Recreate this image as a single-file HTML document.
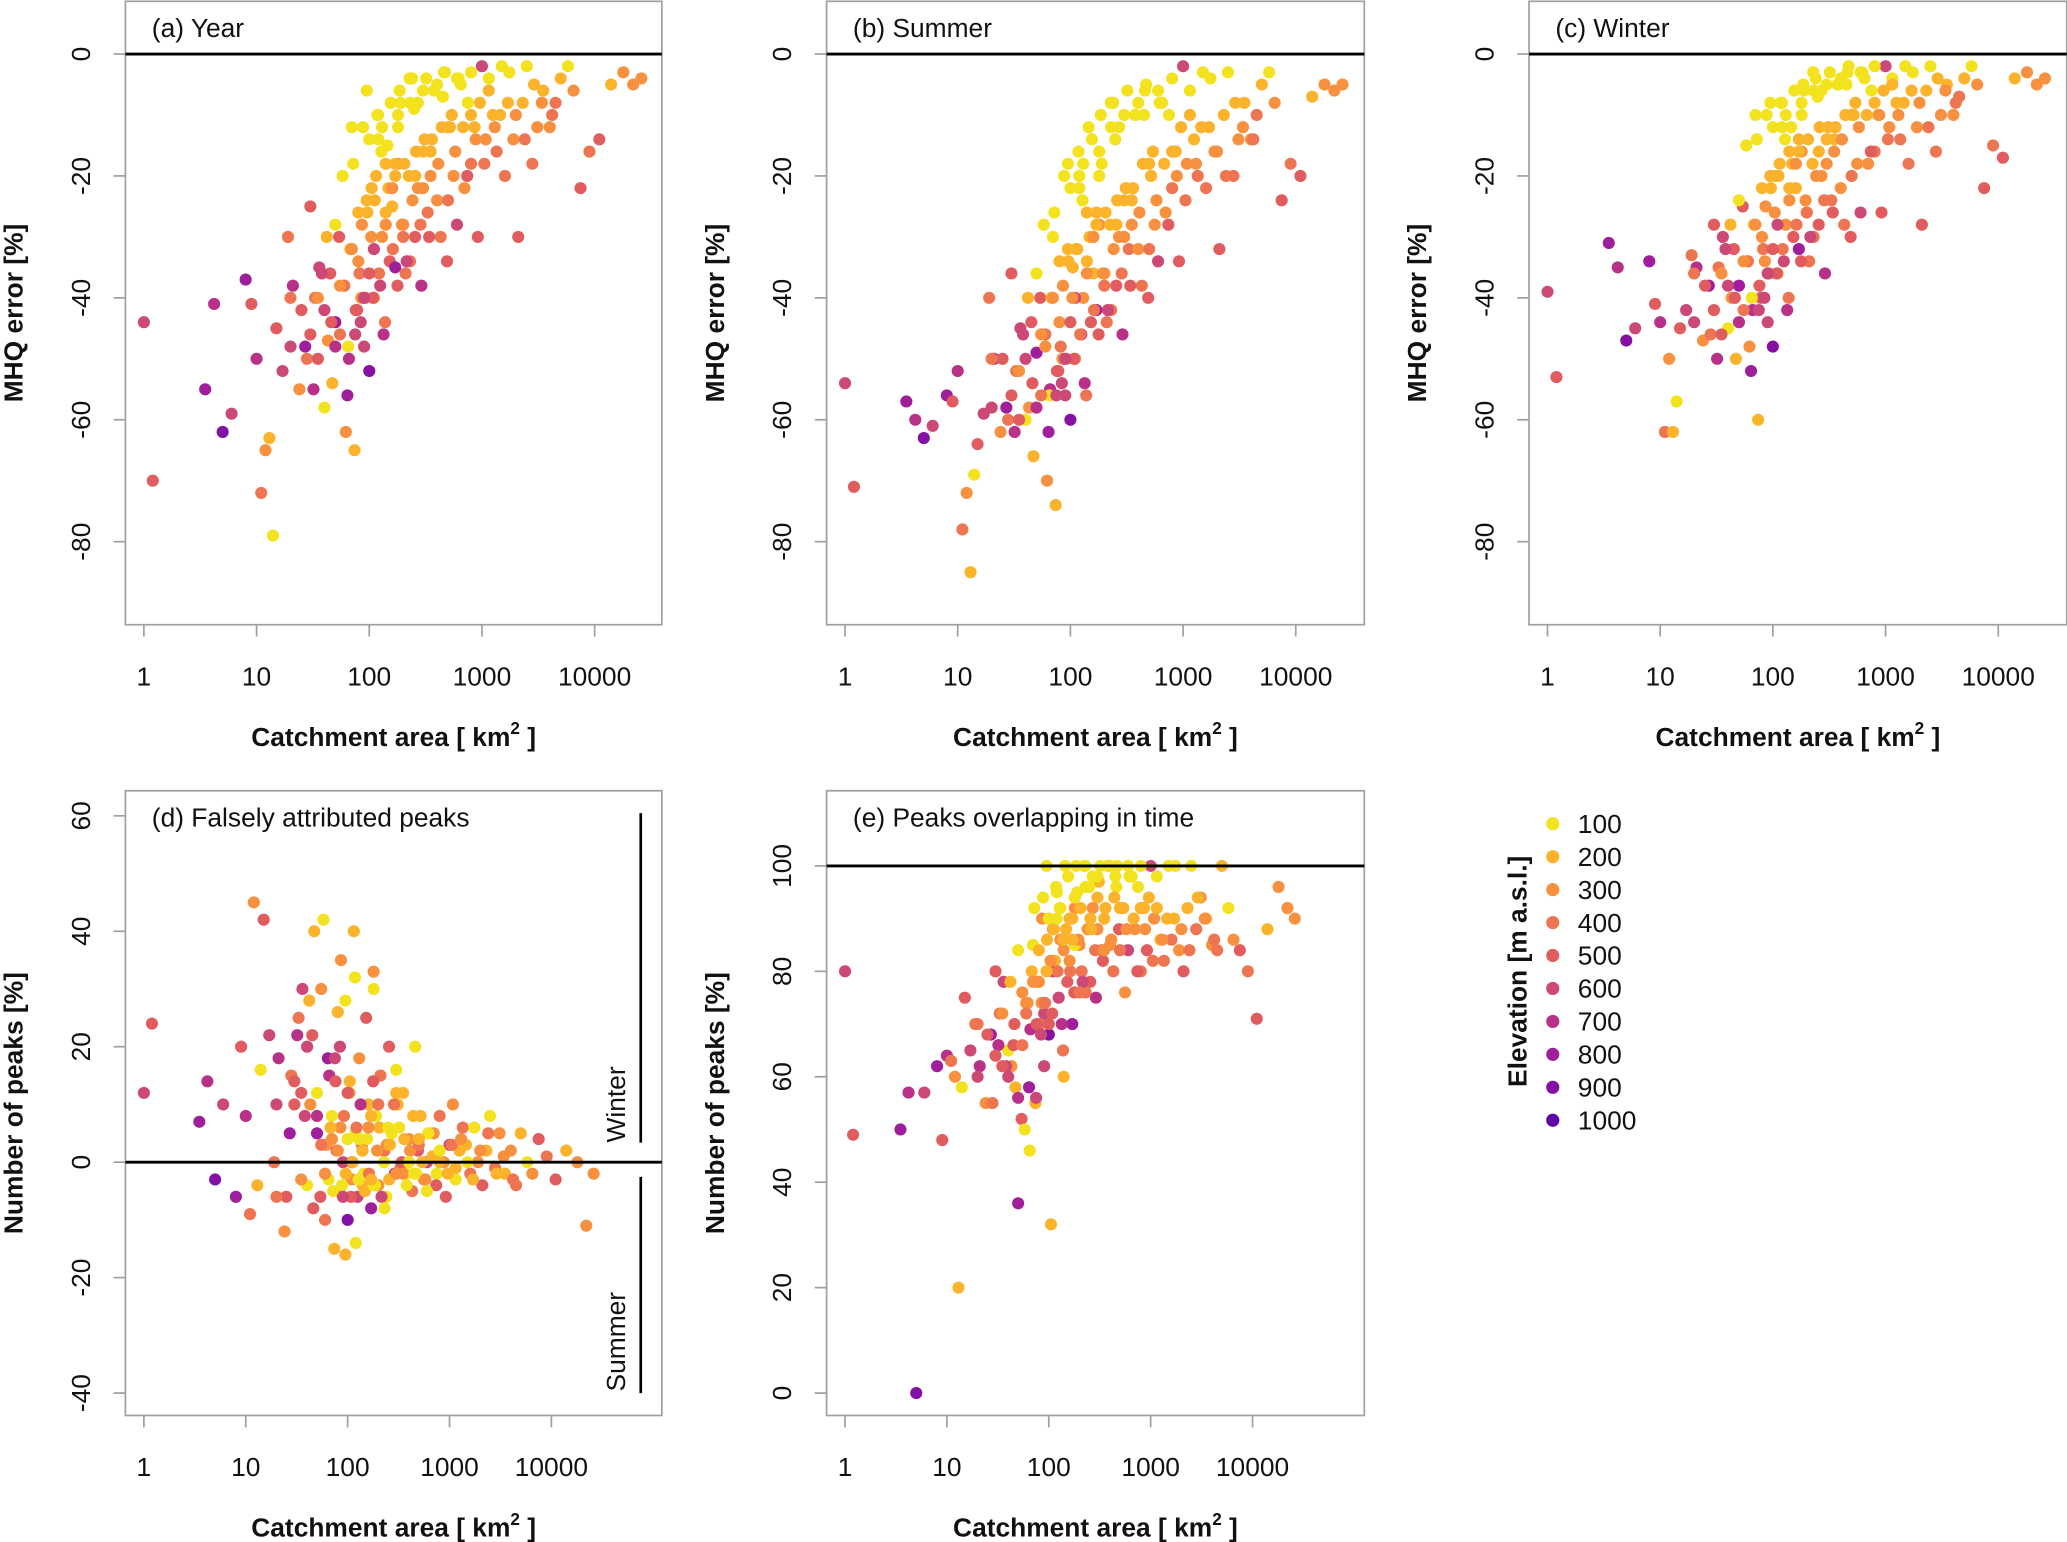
<!DOCTYPE html>
<html><head><meta charset="utf-8">
<style>
html,body{margin:0;padding:0;background:#fff;}
svg{display:block;font-family:"Liberation Sans",Arial,sans-serif;}
</style></head>
<body>
<svg id="chart" width="2067" height="1542" viewBox="0 0 1568 1170" xmlns="http://www.w3.org/2000/svg"></svg>
<script>
const areas=[1,1.2,3.5,4.2,5,6,8,9,10,11,
12,13,14,15,17,19,21,24,27,30,
33,36,40,43,47,50,54,58,62,66,
70,74,78,82,86,90,95,100,105,110,
115,120,125,130,138,145,152,160,170,180,
190,200,210,225,240,255,270,290,310,330,
350,375,400,430,460,490,520,560,600,650,
700,750,800,860,920,1000,1080,1150,1250,1350,
1450,1600,1750,1900,2100,2300,2500,2800,3100,3500,
4000,4500,5000,5800,6500,7500,9000,11000,14000,18000,
22000,26000,45,65,85,110,140,180,230,300,
20,25,28,32,35,38,42,46,50,55,
60,64,68,72,76,80,84,88,92,96,
100,104,108,112,118,122,128,134,140,148,
155,162,170,178,186,195,205,215,228,242,
256,270,285,300,320,340,360,380,410,440,
470,500,540,580,620,680,740,800,880,960,
1050,1150,1300,1500,1700,2000,2400,2900,3400,4200,
30,40,50,60,70,80,90,100,120,140,
160,180,200,230,260,300,350,400,500,600,
20,35,55,75,95,130,170,250,450,800];
const elevations=[600,500,800,700,900,600,800,500,700,400,
300,200,100,500,600,400,700,300,800,500,
400,600,100,300,200,800,500,100,300,700,
100,200,500,400,300,600,100,900,200,300,
200,100,600,300,400,100,500,200,800,300,
100,300,400,200,100,500,300,700,200,400,
200,100,300,400,100,500,200,300,600,100,
300,100,400,200,500,600,300,100,200,400,
200,400,100,300,500,200,100,400,300,200,
300,400,200,100,300,500,400,500,200,300,
300,300,500,100,300,600,200,100,400,200,
600,500,400,700,300,600,200,500,100,400,
300,800,200,100,500,300,600,100,400,200,
100,300,500,200,100,400,100,700,300,200,
100,400,200,500,100,300,200,600,100,300,
200,100,400,300,100,500,200,100,300,200,
100,400,200,300,100,200,500,100,300,200,
400,200,300,100,200,300,400,200,300,400,
500,600,700,400,300,200,600,500,100,200,
300,100,400,100,200,100,300,100,200,100,
400,500,300,600,200,100,200,100,100,200];
const yearErr=[-44,-70,-55,-41,-62,-59,-37,-41,-50,-72,
-65,-63,-79,-45,-52,-30,-38,-55,-48,-25,
-40,-35,-58,-47,-54,-44,-30,-20,-62,-50,
-12,-65,-42,-36,-28,-48,-6,-52,-22,-40,
-20,-10,-38,-30,-44,-15,-34,-25,-35,-18,
-8,-28,-36,-20,-4,-30,-22,-38,-14,-26,
-16,-6,-24,-30,-3,-34,-12,-20,-28,-5,
-22,-8,-18,-12,-30,-2,-14,-4,-10,-16,
-10,-20,-3,-14,-30,-8,-2,-18,-12,-6,
-12,-8,-4,-2,-6,-22,-16,-14,-5,-3,
-5,-4,-36,-48,-40,-32,-26,-12,-34,-16,
-48,-42,-50,-55,-40,-36,-30,-44,-28,-46,
-38,-56,-32,-18,-42,-34,-44,-12,-40,-26,
-14,-30,-40,-24,-10,-36,-16,-46,-28,-22,
-8,-32,-20,-38,-6,-28,-18,-34,-4,-24,
-20,-8,-28,-22,-4,-30,-14,-6,-18,-12,
-3,-24,-10,-16,-4,-12,-20,-3,-14,-8,
-18,-6,-12,-2,-8,-10,-14,-5,-8,-10,
-46,-42,-48,-38,-32,-26,-40,-36,-14,-18,
-22,-10,-30,-8,-16,-6,-20,-5,-12,-4,
-40,-50,-38,-46,-24,-12,-18,-9,-7,-10];
const summerErr=[-54,-71,-57,-60,-63,-61,-56,-57,-52,-78,
-72,-85,-69,-64,-59,-40,-50,-62,-58,-36,
-52,-45,-60,-58,-66,-49,-40,-28,-70,-55,
-30,-74,-52,-48,-38,-56,-18,-60,-35,-50,
-32,-22,-46,-40,-56,-12,-44,-36,-42,-28,
-18,-36,-44,-28,-8,-38,-30,-46,-22,-32,
-24,-10,-32,-38,-6,-40,-20,-28,-34,-8,
-26,-10,-22,-16,-34,-2,-18,-6,-14,-20,
-12,-22,-4,-16,-32,-10,-3,-20,-14,-8,
-14,-10,-5,-3,-8,-24,-18,-20,-7,-5,
-6,-5,-44,-56,-50,-40,-34,-20,-42,-24,
-58,-50,-60,-62,-52,-46,-40,-54,-36,-56,
-48,-62,-40,-26,-52,-44,-54,-20,-50,-34,
-22,-40,-50,-32,-16,-46,-24,-54,-36,-30,
-14,-42,-28,-46,-10,-36,-26,-42,-8,-32,
-28,-12,-36,-30,-6,-38,-22,-10,-26,-18,
-5,-32,-16,-24,-8,-18,-28,-4,-20,-12,
-24,-10,-18,-3,-12,-16,-20,-8,-12,-14,
-56,-50,-58,-46,-40,-34,-50,-44,-20,-26,
-30,-16,-38,-12,-24,-10,-28,-8,-18,-6,
-50,-60,-46,-56,-32,-18,-26,-14,-10,-16];
const winterErr=[-39,-53,-31,-35,-47,-45,-34,-41,-44,-62,
-50,-62,-57,-45,-42,-33,-35,-47,-38,-28,
-35,-30,-45,-40,-50,-38,-25,-15,-48,-42,
-10,-60,-40,-32,-25,-44,-8,-48,-20,-36,
-18,-8,-34,-28,-40,-12,-30,-22,-32,-16,
-6,-26,-34,-18,-4,-28,-20,-36,-12,-24,
-14,-5,-22,-28,-3,-30,-10,-18,-26,-4,
-18,-6,-16,-10,-26,-2,-12,-4,-8,-14,
-8,-18,-3,-12,-28,-6,-2,-16,-10,-5,
-10,-7,-4,-2,-5,-22,-15,-17,-4,-3,
-5,-4,-32,-40,-34,-28,-22,-10,-30,-14,
-44,-38,-46,-50,-36,-32,-28,-40,-24,-42,
-34,-52,-28,-14,-38,-30,-40,-10,-36,-22,
-12,-26,-36,-20,-8,-32,-14,-42,-24,-18,
-6,-28,-16,-34,-5,-24,-14,-30,-3,-20,
-16,-6,-24,-18,-3,-26,-12,-5,-14,-10,
-2,-20,-8,-12,-3,-10,-16,-2,-10,-6,
-14,-5,-10,-2,-6,-8,-12,-4,-6,-8,
-42,-38,-44,-34,-28,-22,-36,-32,-12,-16,
-18,-8,-26,-6,-12,-5,-16,-4,-10,-3,
-36,-46,-34,-42,-20,-10,-14,-7,-5,-8];
const falsePeaks=[12,24,7,14,-3,10,-6,20,8,-9,
45,-4,16,42,22,0,18,-12,5,10,
25,30,-4,10,40,5,-6,42,3,15,
8,-15,2,-5,35,0,28,-10,14,-3,
40,5,-6,18,3,-2,25,10,-8,33,
8,-4,15,2,-6,20,5,-2,10,-1,
12,-2,4,-5,20,2,8,-3,0,5,
5,-2,8,0,-6,3,10,-3,2,6,
3,-2,6,0,-4,2,8,-1,5,-2,
2,-4,5,0,-2,4,1,-3,2,0,
-11,-2,22,-3,6,0,-4,30,2,12,
10,-6,15,22,-3,8,28,-8,12,3,
-2,18,6,-5,14,2,20,-4,8,-2,
4,12,-6,0,32,6,-3,10,2,-5,
4,-2,8,14,-4,2,6,-6,0,3,
-3,5,10,-2,6,0,4,-4,2,8,
-2,3,0,-3,5,1,-4,2,0,-2,
3,-1,4,0,-3,2,5,-2,1,-3,
14,20,8,-10,4,26,-6,12,-14,2,
6,-4,10,-8,3,16,-2,0,4,-5,
-6,12,30,18,-16,4,-3,6,-2,0];
const overlapPeaks=[80,49,50,57,0,57,62,48,64,63,
60,20,58,75,65,70,62,55,68,80,
72,78,65,62,58,36,52,50,74,69,
85,55,78,70,90,72,100,68,32,88,
82,95,75,86,65,100,78,90,70,92,
95,85,80,100,88,78,92,75,97,84,
90,100,85,80,96,88,92,76,84,98,
88,96,80,92,84,100,90,98,86,82,
90,86,100,84,80,92,100,88,94,90,
85,84,100,92,86,84,80,71,88,96,
92,90,66,46,74,80,60,85,76,94,
60,68,55,66,72,62,78,70,84,66,
74,58,80,92,70,78,68,94,74,86,
90,82,72,88,96,80,92,70,84,88,
98,80,90,76,100,86,92,78,100,88,
90,98,84,88,100,82,92,100,86,94,
100,84,92,88,98,90,80,100,88,94,
82,92,86,100,90,88,84,94,90,86,
64,60,56,72,78,84,62,70,90,86,
82,94,76,96,88,98,84,100,92,100,
70,62,76,56,80,92,86,96,98,92];
const legendLevels=[100,200,300,400,500,600,700,800,900,1000];
const legendColors=["#f3e21e","#fbb32b","#f7913f","#ee7552","#e05c5f","#cc4876","#b73189","#9f1e9b","#8410a4","#5d06a5"];
const xTickLabels=["1","10","100","1000","10000"];
const mhqTicks=[0,-20,-40,-60,-80];
const falseTicks=[60,40,20,0,-20,-40];
const overlapTicks=[100,80,60,40,20,0];

const NS="http://www.w3.org/2000/svg";
const svg=document.getElementById('chart');
function mk(tag,attrs,parent){const e=document.createElementNS(NS,tag);for(const k in attrs)e.setAttribute(k,attrs[k]);(parent||svg).appendChild(e);return e;}
function colorOf(el){let i=Math.round(el/100)-1;i=Math.max(0,Math.min(9,i));return legendColors[i];}

function panel(cfg){
  const g=mk('g',{});
  
  
  const xS=v=>cfg.x1+(Math.log10(v))*cfg.dec;
  const yS=v=>cfg.y0+(v-cfg.v0)*(cfg.y1-cfg.y0)/(cfg.v1-cfg.v0);
  const box=mk('rect',{x:cfg.bx0,y:cfg.by0,width:cfg.bx1-cfg.bx0,height:cfg.by1-cfg.by0,fill:'none',stroke:'#a0a0a0','stroke-width':1.3},g);
  
  
  xTickLabels.forEach((t,i)=>{const x=xS(Math.pow(10,i));
    const l=mk('line',{x1:x,x2:x,y1:cfg.by1,y2:cfg.by1+9,stroke:'#a0a0a0','stroke-width':1.3},g);
    
    
    const tx=mk('text',{x:x,y:cfg.by1+46,'font-size':20,'text-anchor':'middle',fill:'#111'},g);tx.textContent=t;
    
    
  });
  const xt=mk('text',{x:(cfg.bx0+cfg.bx1)/2,y:cfg.by1+92,'font-size':20,'font-weight':'bold','text-anchor':'middle',fill:'#111'},g);
  const t1=mk('tspan',{},xt);t1.textContent='Catchment area [ km';
  const t2=mk('tspan',{dy:-9,'font-size':13},xt);t2.textContent='2';
  const t3=mk('tspan',{dy:9},xt);t3.textContent=' ]';
  
  
  cfg.ticks.forEach(t=>{const y=yS(t);
    const l=mk('line',{x1:cfg.bx0,x2:cfg.bx0-9,y1:y,y2:y,stroke:'#a0a0a0','stroke-width':1.3},g);
    
    
    const tx=mk('text',{x:cfg.bx0-27,y:y,'font-size':20,'text-anchor':'middle',fill:'#111',transform:`rotate(-90 ${cfg.bx0-27} ${y})`},g);tx.textContent=String(t);
    
    
  });
  const ty=(cfg.by0+cfg.by1)/2, tx0=cfg.bx0-78;
  const yt=mk('text',{x:tx0,y:ty,'font-size':20,'font-weight':'bold','text-anchor':'middle',fill:'#111',transform:`rotate(-90 ${tx0} ${ty})`},g);
  yt.textContent=cfg.ytitle;
  
  
  const pt=mk('text',{x:cfg.bx0+20,y:cfg.by0+27,'font-size':20,fill:'#111'},g);pt.textContent=cfg.title;
  
  
  const pts=mk('g',{},g);
  
  
  areas.forEach((a,i)=>{
    const c=mk('circle',{cx:xS(a),cy:yS(cfg.values[i]),r:4.6,fill:colorOf(elevations[i])},pts);
    
    
  });
  const rl=mk('line',{x1:cfg.bx0,x2:cfg.bx1,y1:yS(cfg.ref),y2:yS(cfg.ref),stroke:'#000','stroke-width':2.2},g);
  
  
  return g;
}
const topCfg={by0:1,by1:474,v0:0,v1:-80,y0:41,y1:411,dec:85.5,ticks:mhqTicks,ytitle:'MHQ error [%]',ref:0};
panel(Object.assign({},topCfg,{name:'panel-a-year',bx0:95,bx1:502,x1:109,title:'(a) Year',values:yearErr}));
panel(Object.assign({},topCfg,{name:'panel-b-summer',bx0:627,bx1:1035,x1:641,title:'(b) Summer',values:summerErr}));
panel(Object.assign({},topCfg,{name:'panel-c-winter',bx0:1160,bx1:1568,x1:1174,title:'(c) Winter',values:winterErr}));
panel({name:'panel-d-false-peaks',bx0:95,bx1:502,by0:600,by1:1074,x1:109,dec:77.3,v0:60,v1:-40,y0:619,y1:1057,ticks:falseTicks,ytitle:'Number of peaks [%]',title:'(d) Falsely attributed peaks',values:falsePeaks,ref:0});
panel({name:'panel-e-overlap',bx0:627,bx1:1035,by0:600,by1:1074,x1:641,dec:77.3,v0:100,v1:0,y0:657,y1:1057,ticks:overlapTicks,ytitle:'Number of peaks [%]',title:'(e) Peaks overlapping in time',values:overlapPeaks,ref:100});
[[617,867,'Winter',838],[893,1057,'Summer',1018]].forEach(([a,b,t,ty])=>{
  const l=mk('line',{x1:486,x2:486,y1:a,y2:b,stroke:'#000','stroke-width':2});
  
  
  const tx=mk('text',{x:474,y:ty,'font-size':20,'text-anchor':'middle',fill:'#111',transform:`rotate(-90 474 ${ty})`});
  tx.textContent=t;
  
  
});
const lg=mk('g',{});


legendLevels.forEach((v,i)=>{const y=625+i*25;
  const c=mk('circle',{cx:1178,cy:y,r:5,fill:legendColors[i]},lg);
  
  
  const t=mk('text',{x:1197,y:y+7,'font-size':20,fill:'#111'},lg);t.textContent=String(v);
  
  
});
const lt=mk('text',{x:1158,y:737,'font-size':20,'font-weight':'bold','text-anchor':'middle',fill:'#111',transform:'rotate(-90 1158 737)'},lg);
lt.textContent='Elevation [m a.s.l.]';


</script>
</body></html>
